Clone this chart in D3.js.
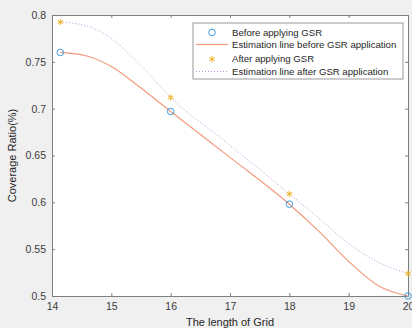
<!DOCTYPE html>
<html>
<head>
<meta charset="utf-8">
<script src="https://cdn.jsdelivr.net/npm/d3@7"></script>
<style>
  body { margin: 0; background: #f0f0f0; }
  svg { display: block; font-family: "Liberation Sans", Arial, sans-serif; }
  .axis path, .axis line { stroke: #7f7f7f; }
  .axis text { fill: #3c3c3c; font-size: 10.5px; }
</style>
</head>
<body>
<div id="chart"></div>
<script>
// measured points
var gridLen = [14.14, 16, 18, 20];
var beforeGSR = [0.760, 0.697, 0.598, 0.500];
var afterGSR = [0.7925, 0.712, 0.609, 0.524];

// estimation lines
var estX = [14.14, 14.6, 15, 15.5, 16, 17, 18, 18.5, 19, 19.5, 20];
var estBefore = [0.760, 0.756, 0.745, 0.722, 0.697, 0.648, 0.598, 0.569, 0.537, 0.511, 0.500];
var estAfter = [0.7925, 0.788, 0.775, 0.746, 0.712, 0.661, 0.609, 0.583, 0.556, 0.536, 0.524];

var xTicks = [14, 15, 16, 17, 18, 19, 20];
var yTicks = [0.5, 0.55, 0.6, 0.65, 0.7, 0.75, 0.8];

var legendLabels = ["Before applying GSR", "Estimation line before GSR application",
    "After applying GSR", "Estimation line after GSR application"];

var W = 412, H = 328;
var margin = { top: 15, right: 4, bottom: 32, left: 52 };
var width = W - margin.left - margin.right,
    height = H - margin.top - margin.bottom;

var svg = d3.select("#chart").append("svg")
    .attr("width", W)
    .attr("height", H);

var g = svg.append("g")
    .attr("transform", "translate(" + margin.left + "," + margin.top + ")");

g.append("rect")
    .attr("width", width)
    .attr("height", height)
    .attr("fill", "#fff");

var x = d3.scaleLinear().domain([14, 20]).range([0, width]);
var y = d3.scaleLinear().domain([0.5, 0.8]).range([height, 0]);

var fmt = function(d) { return String(+d.toFixed(2)); };

// axes (box on, ticks inward)
g.append("g").attr("class", "axis")
    .attr("transform", "translate(0," + height + ")")
    .call(d3.axisBottom(x).tickValues(xTicks).tickSizeInner(-3).tickSizeOuter(0).tickPadding(7).tickFormat(fmt));
g.append("g").attr("class", "axis")
    .call(d3.axisTop(x).tickValues(xTicks).tickSizeInner(-3).tickSizeOuter(0).tickFormat(""));
g.append("g").attr("class", "axis")
    .call(d3.axisLeft(y).tickValues(yTicks).tickSizeInner(-3).tickSizeOuter(0).tickPadding(6).tickFormat(fmt));
g.append("g").attr("class", "axis")
    .attr("transform", "translate(" + width + ",0)")
    .call(d3.axisRight(y).tickValues(yTicks).tickSizeInner(-3).tickSizeOuter(0).tickFormat(""));

// axis titles
g.append("text")
    .attr("x", x(17))
    .attr("y", height + 30)
    .attr("text-anchor", "middle")
    .attr("font-size", "11px")
    .attr("fill", "#262626")
    .text("The length of Grid");

g.append("text")
    .attr("transform", "translate(" + (-36) + "," + y(0.65) + ") rotate(-90)")
    .attr("text-anchor", "middle")
    .attr("font-size", "11px")
    .attr("fill", "#262626")
    .text("Coverage Ratio(%)");

// lines
var line = d3.line()
    .x(function(d) { return x(d[0]); })
    .y(function(d) { return y(d[1]); })
    .curve(d3.curveMonotoneX);

g.append("path")
    .datum(d3.zip(estX, estBefore))
    .attr("d", line)
    .attr("fill", "none")
    .attr("stroke", "#f39a7c")
    .attr("stroke-width", 1.2);

g.append("path")
    .datum(d3.zip(estX, estAfter))
    .attr("d", line)
    .attr("fill", "none")
    .attr("stroke", "#c592da")
    .attr("stroke-width", 1)
    .attr("stroke-dasharray", "1,2");

// markers
g.selectAll(".before")
    .data(d3.zip(gridLen, beforeGSR))
    .enter().append("circle")
    .attr("class", "before")
    .attr("cx", function(d) { return x(d[0]); })
    .attr("cy", function(d) { return y(d[1]); })
    .attr("r", 3.3)
    .attr("fill", "none")
    .attr("stroke", "#3d9be0")
    .attr("stroke-width", 1);

var star = d3.symbol().type(d3.symbolAsterisk).size(28);
g.selectAll(".after")
    .data(d3.zip(gridLen, afterGSR))
    .enter().append("path")
    .attr("class", "after")
    .attr("d", star)
    .attr("transform", function(d) { return "translate(" + x(d[0]) + "," + y(d[1]) + ")"; })
    .attr("fill", "none")
    .attr("stroke", "#f0b020")
    .attr("stroke-width", 1);

// legend
var leg = svg.append("g").attr("transform", "translate(193,23)");
leg.append("rect")
    .attr("width", 210)
    .attr("height", 56)
    .attr("fill", "#fff")
    .attr("stroke", "#7f7f7f")
    .attr("stroke-width", 0.8);

var rowY = [9.5, 21.5, 36, 48.5];
legendLabels.forEach(function(lbl, i) {
    var row = leg.append("g").attr("transform", "translate(0," + rowY[i] + ")");
    if (i === 0) {
        row.append("circle").attr("cx", 19).attr("r", 3.3)
            .attr("fill", "none").attr("stroke", "#3d9be0");
    } else if (i === 1) {
        row.append("line").attr("x1", 3).attr("x2", 35)
            .attr("stroke", "#f39a7c").attr("stroke-width", 1.2);
    } else if (i === 2) {
        row.append("path").attr("d", star).attr("transform", "translate(19,0)")
            .attr("fill", "none").attr("stroke", "#f0b020");
    } else {
        row.append("line").attr("x1", 3).attr("x2", 35)
            .attr("stroke", "#c592da").attr("stroke-dasharray", "1,2");
    }
    row.append("text")
        .attr("x", 39)
        .attr("dy", "0.35em")
        .attr("font-size", "9.6px")
        .attr("fill", "#262626")
        .text(lbl);
});
</script>
</body>
</html>
